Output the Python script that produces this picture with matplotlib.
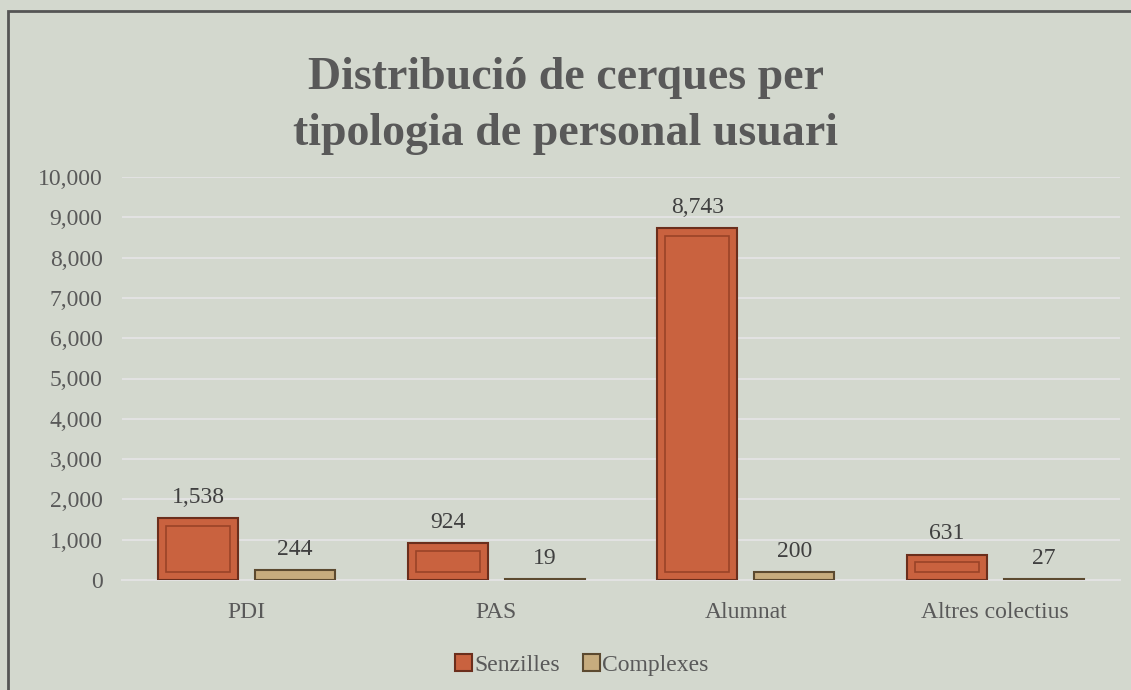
import numpy as np
import matplotlib.pyplot as plt
from matplotlib.patches import Rectangle

categories = ['PDI', 'PAS', 'Alumnat', 'Altres colectius']
senzilles = [1538, 924, 8743, 631]
complexes = [244, 19, 200, 27]
series_names = ['Senzilles', 'Complexes']

bg = '#D3D8CE'
text_col = '#595959'
plt.rcParams['font.family'] = ['Liberation Serif', 'DejaVu Serif']

fig = plt.figure(figsize=(11.31, 6.9), dpi=100, facecolor=bg)
ax = fig.add_axes([122 / 1131, 1 - 580 / 690, 998 / 1131, 403 / 690])
ax.set_facecolor(bg)

# frame of the chart area
fig.patches.append(Rectangle((8 / 1131, -0.05), 1.2, 1 - 11 / 690 + 0.05,
                             transform=fig.transFigure, fill=False,
                             edgecolor='#555555', linewidth=2))

x = np.arange(len(categories))
w = 0.32
off = 0.194
b1 = ax.bar(x - off, senzilles, w, color='#C9623F', edgecolor='#6B2E1C',
            linewidth=1.5, label=series_names[0], zorder=3)
b2 = ax.bar(x + off, complexes, w, color='#C7AC7E', edgecolor='#5C4A30',
            linewidth=1.5, label=series_names[1], zorder=3)
# inner bevel line
sv = np.array(senzilles)
inset = np.minimum(200, sv * 0.3)
ax.bar(x - off, sv - 2 * inset, w * 0.8, bottom=inset,
       fill=False, edgecolor='#9A4328', linewidth=1.2, zorder=4)

for bars, vals in ((b1, senzilles), (b2, complexes)):
    for r, v in zip(bars, vals):
        ax.text(r.get_x() + r.get_width() / 2, v + 250, f'{v:,}',
                ha='center', va='bottom', fontsize=17, color='#404040')

ax.set_xlim(-0.5, len(categories) - 0.5)
ax.set_ylim(0, 10000)
ax.set_yticks(np.arange(0, 10001, 1000))
ax.set_yticklabels([f'{v:,}' for v in range(0, 10001, 1000)])
ax.set_xticks(x)
ax.set_xticklabels(categories)
ax.tick_params(axis='both', length=0, labelsize=17, labelcolor=text_col)
ax.tick_params(axis='y', pad=14)
ax.tick_params(axis='x', pad=16)
ax.grid(axis='y', color='#E2E2E2', linewidth=1.5, zorder=0)
ax.set_axisbelow(True)
for s in ['top', 'right', 'left']:
    ax.spines[s].set_visible(False)
ax.spines['bottom'].set_color('#E2E2E2')
ax.spines['bottom'].set_linewidth(1.5)

fig.text(0.5, 1 - 106 / 690, 'Distribució de cerques per\ntipologia de personal usuari',
         ha='center', va='center', fontsize=33, fontweight='bold',
         color=text_col, linespacing=1.42)

fig.legend(handles=[b1, b2], labels=series_names, loc='center',
           bbox_to_anchor=(582 / 1131, 1 - 665 / 690), ncol=2, frameon=False,
           fontsize=17, handlelength=0.7, handleheight=0.7, handletextpad=0.1,
           columnspacing=1.0, labelcolor=text_col)

fig.savefig('out.png', dpi=100, facecolor=bg)
